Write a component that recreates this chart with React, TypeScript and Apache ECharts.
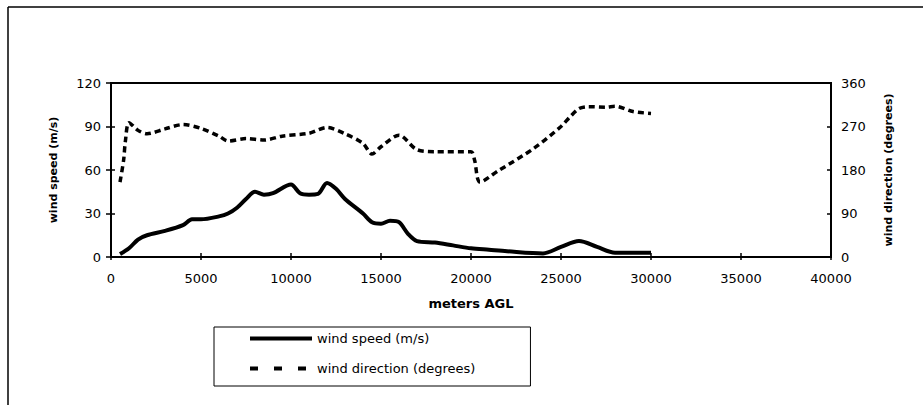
import React, { useEffect, useRef } from "react";
import * as echarts from "echarts";

const heightsSpeed = [500, 1000, 1500, 2000, 3000, 4000, 4500, 5000, 6000, 6500, 7000, 7500, 8000, 8500, 9000, 10000, 10500, 11000, 11500, 12000, 12500, 13000, 14000, 14500, 15000, 15500, 16000, 16500, 17000, 18000, 19000, 20000, 21000, 22000, 24000, 25000, 26000, 27000, 28000, 29000, 30000];
const windSpeed = [2, 6, 12, 15, 18, 22, 26, 26, 28, 30, 34, 40, 45, 43, 44, 50, 44, 43, 43.5, 51, 47, 40, 30, 24, 23, 25, 24, 16, 11, 10, 8, 6, 5, 4, 2.5, 7, 11, 7, 3, 3, 3];

const heightsDir = [500, 700, 800, 1000, 1500, 2000, 3000, 4000, 5000, 6000, 6500, 7500, 8500, 9500, 11000, 12000, 13000, 14000, 14500, 15000, 16000, 17000, 18000, 20000, 20200, 20500, 21500, 23500, 25000, 25500, 26000, 26500, 27500, 28000, 29000, 30000];
const windDir = [155, 200, 240, 278, 262, 255, 265, 274, 266, 250, 240, 245, 242, 250, 256, 268, 255, 235, 213, 228, 252, 222, 218, 218, 200, 155, 178, 225, 270, 290, 307, 311, 310, 312, 301, 297];

const FONT = "DejaVu Sans";

export default function App() {
  const ref = useRef<HTMLDivElement>(null);
  useEffect(() => {
    const chart = echarts.init(ref.current!, undefined, { renderer: "svg" });
    const labelStyle = { color: "#000", fontFamily: FONT, fontSize: 13 };
    const nameStyle = { color: "#000", fontFamily: FONT, fontSize: 13, fontWeight: "bold" as const };
    const vNameStyle = { ...nameStyle, fontSize: 11 };
    const plain = (v: number) => String(v);
    chart.setOption({
      animation: false,
      backgroundColor: "#fff",
      grid: {
        left: 111,
        right: 92,
        top: 83,
        bottom: 148,
        show: true,
        borderColor: "#000",
        borderWidth: 2,
        backgroundColor: "transparent",
      },
      legend: {
        orient: "vertical",
        left: 214,
        top: 327,
        padding: [5, 55, 11, 34],
        itemWidth: 62,
        itemHeight: 14,
        itemGap: 17,
        borderColor: "#000",
        borderWidth: 1,
        itemStyle: { opacity: 0 },
        textStyle: { color: "#000", fontFamily: FONT, fontSize: 13 },
        data: [
          { name: "wind speed (m/s)", lineStyle: { width: 4, type: "solid" } },
          { name: "wind direction (degrees)", lineStyle: { width: 4, type: [8, 16] } },
        ],
      },
      xAxis: [
        {
          type: "value",
          min: 0,
          max: 40000,
          interval: 5000,
          name: "meters AGL",
          nameLocation: "middle",
          nameGap: 40,
          nameTextStyle: nameStyle,
          axisLine: { show: true, lineStyle: { color: "#000", width: 2 } },
          axisTick: { show: true, length: 3, lineStyle: { color: "#000", width: 1.5 } },
          axisLabel: { ...labelStyle, margin: 15, formatter: plain },
          splitLine: { show: false },
        },
        {
          type: "value",
          min: 0,
          max: 40000,
          interval: 5000,
          position: "bottom",
          axisLine: { show: false },
          axisTick: { show: true, inside: true, length: 4, lineStyle: { color: "#000", width: 1.5 } },
          axisLabel: { show: false },
          splitLine: { show: false },
        },
      ],
      yAxis: [
        {
          type: "value",
          min: 0,
          max: 120,
          interval: 30,
          position: "left",
          name: "wind speed (m/s)",
          nameLocation: "middle",
          nameRotate: 90,
          nameGap: 52,
          nameTextStyle: vNameStyle,
          axisLine: { show: true, lineStyle: { color: "#000", width: 2 } },
          axisTick: { show: true, length: 5, lineStyle: { color: "#000", width: 1.5 } },
          axisLabel: { ...labelStyle, margin: 10, formatter: plain },
          splitLine: { show: false },
        },
        {
          type: "value",
          min: 0,
          max: 360,
          interval: 90,
          position: "right",
          name: "wind direction (degrees)",
          nameLocation: "middle",
          nameRotate: 90,
          nameGap: 52,
          nameTextStyle: vNameStyle,
          axisLine: { show: true, lineStyle: { color: "#000", width: 2 } },
          axisTick: { show: true, length: 4, lineStyle: { color: "#000", width: 1.5 } },
          axisLabel: { ...labelStyle, margin: 10, formatter: plain },
          splitLine: { show: false },
        },
        {
          type: "value",
          min: 0,
          max: 360,
          interval: 90,
          position: "right",
          axisLine: { show: false },
          axisTick: { show: true, inside: true, length: 4, lineStyle: { color: "#000", width: 1.5 } },
          axisLabel: { show: false },
          splitLine: { show: false },
        },
      ],
      graphic: [
        { type: "line", shape: { x1: 8, y1: 7, x2: 923, y2: 7 }, style: { stroke: "#000", lineWidth: 1.5 } },
        { type: "line", shape: { x1: 8, y1: 7, x2: 8, y2: 405 }, style: { stroke: "#000", lineWidth: 1.5 } },
      ],
      series: [
        {
          name: "wind speed (m/s)",
          type: "line",
          xAxisIndex: 0,
          yAxisIndex: 0,
          data: heightsSpeed.map((h, i) => [h, windSpeed[i]]),
          showSymbol: false,
          symbol: "none",
          smooth: 0.3,
          lineStyle: { color: "#000", width: 4 },
          itemStyle: { color: "#000" },
        },
        {
          name: "wind direction (degrees)",
          type: "line",
          xAxisIndex: 0,
          yAxisIndex: 1,
          data: heightsDir.map((h, i) => [h, windDir[i]]),
          showSymbol: false,
          symbol: "none",
          smooth: 0.3,
          lineStyle: { color: "#000", width: 3.5, type: [6, 4] },
          itemStyle: { color: "#000" },
        },
      ],
    });
    return () => chart.dispose();
  }, []);
  return <div ref={ref} style={{ width: 923, height: 405, position: "absolute", left: 0, top: 0 }} />;
}
